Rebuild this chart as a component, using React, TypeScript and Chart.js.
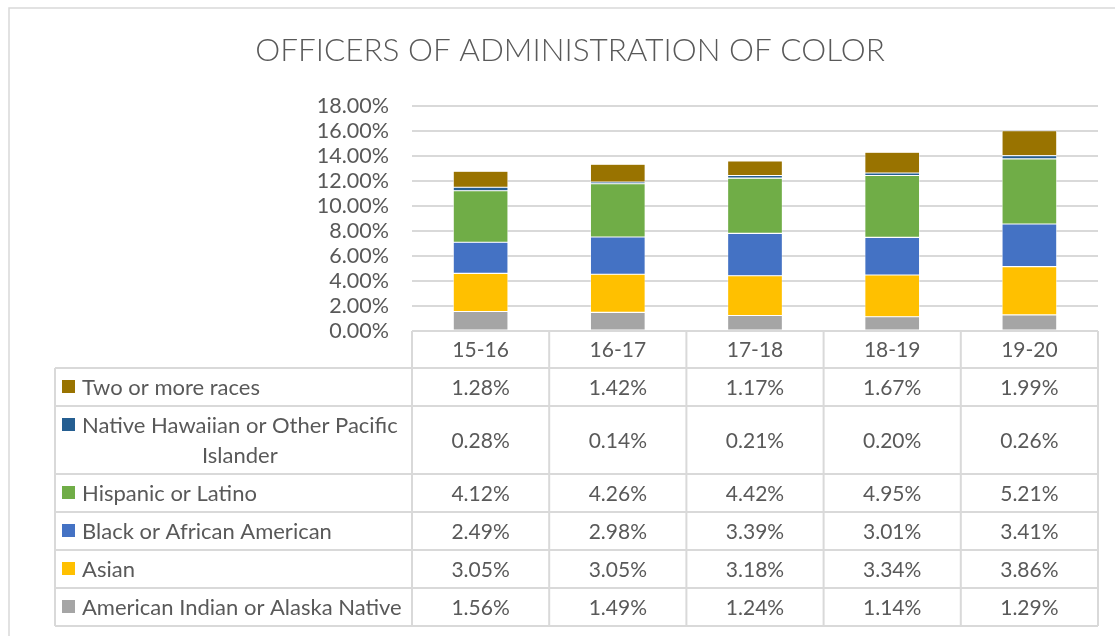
import React, { useEffect, useRef } from "react";
import { Chart, registerables } from "chart.js";

Chart.register(...registerables);

const TITLE = "OFFICERS OF ADMINISTRATION OF COLOR";
const categories = ["15-16", "16-17", "17-18", "18-19", "19-20"];

// series, bottom of stack first
const americanIndian = [1.56, 1.49, 1.24, 1.14, 1.29];
const asian = [3.05, 3.05, 3.18, 3.34, 3.86];
const black = [2.49, 2.98, 3.39, 3.01, 3.41];
const hispanic = [4.12, 4.26, 4.42, 4.95, 5.21];
const nativeHawaiian = [0.28, 0.14, 0.21, 0.2, 0.26];
const twoOrMore = [1.28, 1.42, 1.17, 1.67, 1.99];

const seriesLabels = [
  "American Indian or Alaska Native",
  "Asian",
  "Black or African American",
  "Hispanic or Latino",
  "Native Hawaiian or Other Pacific Islander",
  "Two or more races",
];
const seriesValues = [americanIndian, asian, black, hispanic, nativeHawaiian, twoOrMore];
const seriesColors = ["#A5A5A5", "#FFC000", "#4472C4", "#70AD47", "#255E91", "#997300"];

const yMin = 0;
const yMax = 18;
const yStep = 2;

const FONT = "Lato, 'Open Sans', sans-serif";
const TEXT = "#595959";
const LINE = "#d9d9d9";

const wrapText = (ctx: CanvasRenderingContext2D, text: string, maxW: number) => {
  const words = text.split(" ");
  const lines: string[] = [];
  let cur = "";
  for (const w of words) {
    const t = cur ? cur + " " + w : w;
    if (ctx.measureText(t).width > maxW && cur) {
      lines.push(cur);
      cur = w;
    } else cur = t;
  }
  if (cur) lines.push(cur);
  return lines;
};

const tablePlugin = {
  id: "dataTable",
  afterDraw(chart: any) {
    const ctx: CanvasRenderingContext2D = chart.ctx;
    const area = chart.chartArea;
    const xs = chart.scales.x;
    const n = categories.length;
    const colW = (area.right - area.left) / n;
    const bounds = Array.from({ length: n + 1 }, (_, i) => area.left + i * colW);
    const tableLeft = 47;
    const headerTop = area.bottom;
    const headerH = 37;
    const baseRowH = 38;
    const lineH = 30;
    const textLeft = 74;
    const maxTextW = area.left - textLeft - 4;
    const labelFont = `22px ${FONT}`;
    const numFont = `21px ${FONT}`;

    ctx.save();
    // outer chart border (left/top visible)
    ctx.strokeStyle = LINE;
    ctx.lineWidth = 1.5;
    ctx.beginPath();
    ctx.moveTo(1, chart.height);
    ctx.lineTo(1, 1);
    ctx.lineTo(chart.width, 1);
    ctx.stroke();

    // title
    ctx.fillStyle = TEXT;
    ctx.font = `300 31.5px ${FONT}`;
    ctx.textAlign = "center";
    ctx.textBaseline = "middle";
    ctx.fillText(TITLE, 562, 44);

    ctx.strokeStyle = LINE;
    ctx.lineWidth = 2;

    // header row
    const headerBottom = headerTop + headerH;
    ctx.beginPath();
    for (const b of bounds) {
      ctx.moveTo(b, headerTop);
      ctx.lineTo(b, headerBottom);
    }
    ctx.moveTo(area.left, headerTop);
    ctx.lineTo(area.right, headerTop);
    ctx.stroke();
    ctx.fillStyle = TEXT;
    ctx.font = numFont;
    ctx.textAlign = "center";
    ctx.textBaseline = "middle";
    categories.forEach((c, i) => {
      ctx.fillText(c, xs.getPixelForValue(i), headerTop + headerH / 2 + 1);
    });

    // data rows (top of stack first)
    let y = headerBottom;
    ctx.beginPath();
    ctx.moveTo(tableLeft, y);
    ctx.lineTo(area.right, y);
    ctx.stroke();
    for (let s = seriesLabels.length - 1; s >= 0; s--) {
      ctx.font = labelFont;
      const lines = wrapText(ctx, seriesLabels[s], maxTextW);
      const rowH = baseRowH + (lines.length - 1) * lineH;
      const mid = y + rowH / 2;
      // legend key
      ctx.fillStyle = seriesColors[s];
      const firstLineY = mid - ((lines.length - 1) * lineH) / 2;
      ctx.fillRect(54, firstLineY - 7, 13, 13);
      ctx.fillStyle = TEXT;
      ctx.textAlign = "left";
      ctx.fillText(lines[0], textLeft, firstLineY + 1);
      const firstW = ctx.measureText(lines[0]).width;
      ctx.textAlign = "center";
      for (let l = 1; l < lines.length; l++) {
        ctx.fillText(lines[l], textLeft + firstW / 2, firstLineY + l * lineH + 1);
      }
      ctx.font = numFont;
      seriesValues[s].forEach((v, i) => {
        ctx.fillText(v.toFixed(2) + "%", xs.getPixelForValue(i), mid + 1);
      });
      // borders
      ctx.beginPath();
      ctx.moveTo(tableLeft, y);
      ctx.lineTo(tableLeft, y + rowH);
      for (const b of bounds) {
        ctx.moveTo(b, y);
        ctx.lineTo(b, y + rowH);
      }
      ctx.moveTo(tableLeft, y + rowH);
      ctx.lineTo(area.right, y + rowH);
      ctx.stroke();
      y += rowH;
    }
    ctx.restore();
  },
};

export default function App() {
  const ref = useRef<HTMLCanvasElement>(null);
  useEffect(() => {
    if (!ref.current) return;
    const chart = new Chart(ref.current, {
      type: "bar",
      data: {
        labels: categories,
        datasets: seriesLabels.map((label, i) => ({
          label,
          data: seriesValues[i],
          backgroundColor: seriesColors[i],
          borderColor: "#ffffff",
          borderWidth: 0.6,
          borderSkipped: false,
          barPercentage: 0.4,
          categoryPercentage: 1,
        })),
      },
      options: {
        responsive: false,
        animation: false,
        layout: { padding: { left: 0, top: 99, right: 17, bottom: 305 } },
        plugins: {
          legend: { display: false },
          title: { display: false },
          tooltip: { enabled: false },
        },
        scales: {
          x: { stacked: true, display: false },
          y: {
            stacked: true,
            min: yMin,
            max: yMax,
            border: { display: false },
            grid: { color: LINE, lineWidth: 2, drawTicks: false },
            ticks: {
              stepSize: yStep,
              autoSkip: false,
              padding: 23,
              color: TEXT,
              font: { family: FONT, size: 21.5 },
              callback: (v: any) => Number(v).toFixed(2) + "%",
            },
            afterFit: (scale: any) => {
              scale.width = 404;
            },
          },
        },
      },
      plugins: [tablePlugin],
    });
    return () => chart.destroy();
  }, []);
  return (
    <canvas
      ref={ref}
      width={1107}
      height={629}
      style={{ position: "absolute", left: 8, top: 7, width: 1107, height: 629 }}
    />
  );
}
